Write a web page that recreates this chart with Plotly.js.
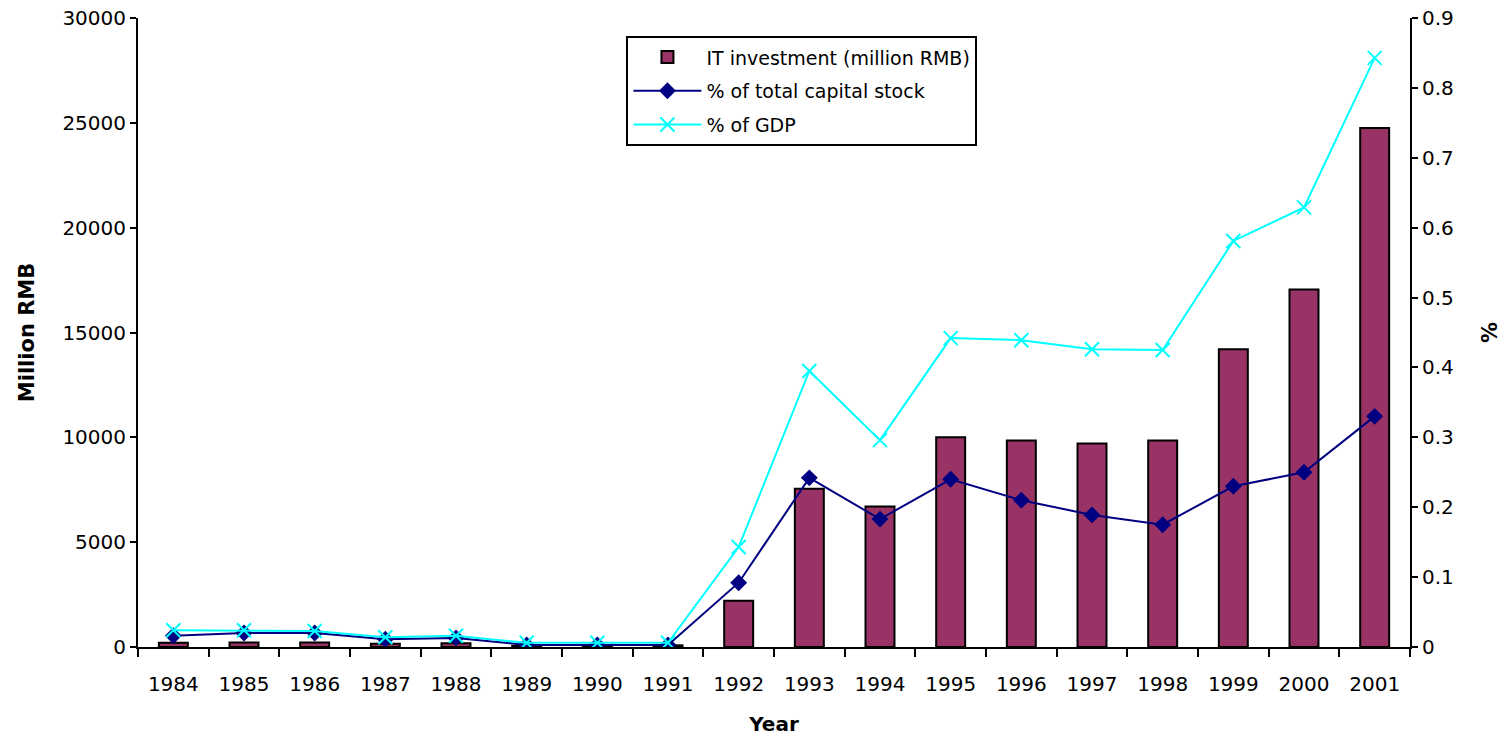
<!DOCTYPE html>
<html><head><meta charset="utf-8">
<script src="https://cdn.plot.ly/plotly-3.0.1.min.js"></script>
<style>html,body{margin:0;padding:0;background:#fff}#chart{width:1502px;height:740px}</style>
</head><body><div id="chart"></div>
<script>
const years = ['1984','1985','1986','1987','1988','1989','1990','1991','1992','1993','1994','1995','1996','1997','1998','1999','2000','2001'];
const itInvestment = [200,220,220,150,180,60,60,80,2200,7550,6700,10000,9850,9700,9850,14200,17050,24750];
const pctCapitalStock = [0.016,0.02,0.02,0.011,0.013,0.003,0.003,0.003,0.092,0.242,0.183,0.240,0.210,0.189,0.175,0.230,0.250,0.330];
const pctGDP = [0.024,0.024,0.023,0.014,0.016,0.006,0.006,0.006,0.143,0.395,0.296,0.442,0.439,0.426,0.425,0.581,0.629,0.843];

const fam = 'DejaVu Sans, Liberation Sans, Arial, sans-serif';
const font = {family:fam, size:20, color:'#000'};
const traces = [
  {type:'bar', x:years, y:itInvestment, name:'IT investment (million RMB)', legendgroup:'a',
   marker:{color:'#993366', line:{color:'#000', width:2}}, yaxis:'y'},
  {type:'scatter', mode:'lines+markers', x:years, y:pctCapitalStock, name:'% of total capital stock', legendgroup:'b',
   line:{color:'#000080', width:2}, marker:{symbol:'diamond', size:13, color:'#000080'}, yaxis:'y2'},
  {type:'scatter', mode:'lines+markers', x:years, y:pctGDP, name:'% of GDP', legendgroup:'c',
   line:{color:'#00FFFF', width:2}, marker:{symbol:'x-thin-open', size:14, line:{color:'#00FFFF', width:2}}, yaxis:'y2'}
];
const axCommon = {showline:true, linecolor:'#000', linewidth:2, tickwidth:2, tickcolor:'#000', showgrid:false, zeroline:false};
const layout = {
  width:1502, height:740, font:font, showlegend:true,
  paper_bgcolor:'#fff', plot_bgcolor:'#fff',
  margin:{l:138, r:92, t:18, b:93},
  bargap:0.59,
  xaxis:Object.assign({}, axCommon, {type:'category', range:[-0.5,17.5], ticks:'outside', ticklen:8,
    tickson:'boundaries', tickfont:{size:20}, ticklabelstandoff:18,
    title:{text:'<b>Year</b>', font:{size:20}, standoff:22}}),
  yaxis:Object.assign({}, axCommon, {range:[0,30000], dtick:5000, tickformat:'d', ticks:'outside', ticklen:6,
    tickfont:{size:20},
    title:{text:'<b>Million RMB</b>', font:{size:21}, standoff:22}}),
  yaxis2:Object.assign({}, axCommon, {range:[0,0.9], dtick:0.1, overlaying:'y', side:'right',
    ticks:'outside', ticklen:6, tickfont:{size:20},
    title:{text:'<b>%</b>', font:{size:21}, standoff:30}}),
  legend:{x:0.384, y:0.971, xanchor:'left', yanchor:'top', bordercolor:'#000', borderwidth:2, bgcolor:'#fff',
    font:{size:19}, itemwidth:68, tracegroupgap:6}
};
Plotly.newPlot('chart', traces, layout, {displayModeBar:false, staticPlot:true});
</script></body></html>
